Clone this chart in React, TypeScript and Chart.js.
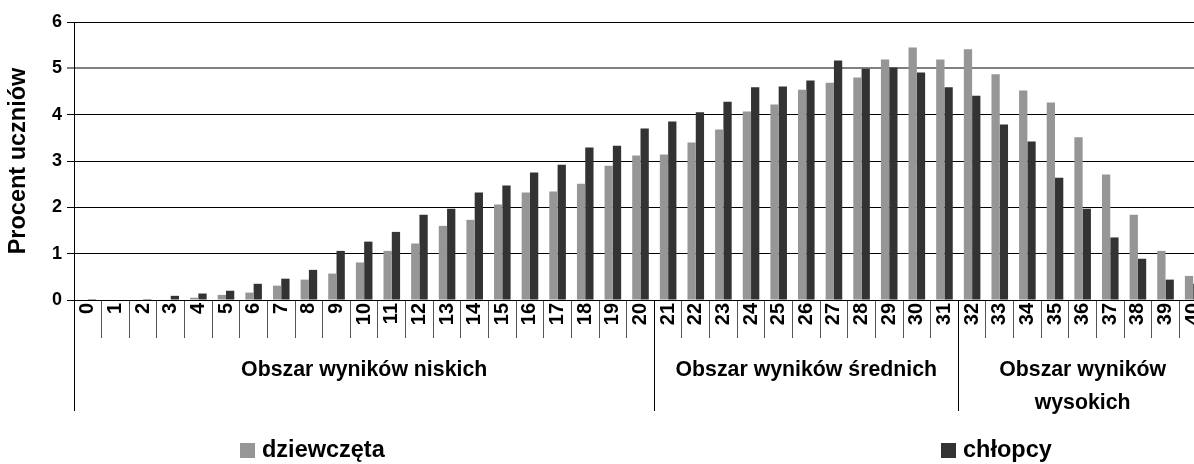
import React, { useEffect, useRef } from 'react';
import { Chart, registerables } from 'chart.js';

Chart.register(...registerables);

const categories = [
  '0', '1', '2', '3', '4', '5', '6', '7', '8', '9', '10',
  '11', '12', '13', '14', '15', '16', '17', '18', '19', '20',
  '21', '22', '23', '24', '25', '26', '27', '28', '29', '30',
  '31', '32', '33', '34', '35', '36', '37', '38', '39', '40',
];

const girls = [
  0, 0, 0, 0.01, 0.05, 0.11, 0.16, 0.31, 0.44, 0.57,
  0.81, 1.06, 1.22, 1.6, 1.73, 2.06, 2.32, 2.34, 2.51, 2.9,
  3.12, 3.14, 3.4, 3.68, 4.07, 4.22, 4.54, 4.69, 4.8, 5.19,
  5.45, 5.19, 5.41, 4.87, 4.52, 4.26, 3.51, 2.71, 1.84, 1.06,
  0.52,
];

const boys = [
  0.02, 0, 0.02, 0.09, 0.14, 0.2, 0.35, 0.46, 0.65, 1.06,
  1.26, 1.47, 1.84, 1.97, 2.32, 2.47, 2.75, 2.92, 3.29, 3.33,
  3.7, 3.85, 4.05, 4.28, 4.59, 4.61, 4.74, 5.17, 4.99, 5.02,
  4.91, 4.59, 4.41, 3.79, 3.42, 2.64, 1.97, 1.35, 0.89, 0.44,
  0.35,
];

const seriesNames = ['dziewczęta', 'chłopcy'];
const seriesColors = ['#969696', '#333333'];

const groupLabels = [
  ['Obszar wyników niskich'],
  ['Obszar wyników średnich'],
  ['Obszar wyników', 'wysokich'],
];
const groupStarts = [0, 21, 32];
const groupEnds = [20, 31, 40];

const yTitle = 'Procent uczniów';

const FONT = '"Liberation Sans", Arial, Helvetica, sans-serif';

const overlayPlugin = {
  id: 'overlay',
  afterDraw(chart: any) {
    const { ctx, chartArea, scales } = chart;
    const x = scales.x;
    const n = categories.length;
    const bound = (i: number) =>
      i <= 0
        ? chartArea.left
        : i >= n
        ? chartArea.right
        : (x.getPixelForValue(i - 1) + x.getPixelForValue(i)) / 2;

    ctx.save();
    // group separator lines
    ctx.strokeStyle = '#000';
    ctx.lineWidth = 1;
    groupStarts.forEach((s) => {
      const px = Math.round(bound(s)) + 0.5;
      ctx.beginPath();
      ctx.moveTo(px, chartArea.bottom);
      ctx.lineTo(px, 411);
      ctx.stroke();
    });

    // group labels
    ctx.fillStyle = '#000';
    ctx.font = `bold 21.3px ${FONT}`;
    ctx.textAlign = 'center';
    ctx.textBaseline = 'middle';
    groupLabels.forEach((lines, gi) => {
      const cx = (bound(groupStarts[gi]) + bound(groupEnds[gi] + 1)) / 2;
      lines.forEach((line, li) => {
        ctx.fillText(line, cx, 370 + li * 33);
      });
    });

    // legend
    const legendX = [240, 941];
    ctx.font = `bold 23.5px ${FONT}`;
    ctx.textAlign = 'left';
    seriesNames.forEach((name, i) => {
      ctx.fillStyle = seriesColors[i];
      ctx.fillRect(legendX[i], 443, 15, 15);
      ctx.fillStyle = '#000';
      ctx.fillText(name, legendX[i] + 22, 451);
    });
    ctx.restore();
  },
};

export default function App() {
  const canvasRef = useRef<HTMLCanvasElement | null>(null);

  useEffect(() => {
    const canvas = canvasRef.current;
    if (!canvas) return;
    const chart = new Chart(canvas, {
      type: 'bar',
      data: {
        labels: categories,
        datasets: [
          {
            label: seriesNames[0],
            data: girls,
            backgroundColor: seriesColors[0],
            borderWidth: 0,
            categoryPercentage: 0.6,
            barPercentage: 1,
          },
          {
            label: seriesNames[1],
            data: boys,
            backgroundColor: seriesColors[1],
            borderWidth: 0,
            categoryPercentage: 0.6,
            barPercentage: 1,
          },
        ],
      },
      options: {
        responsive: false,
        animation: false,
        layout: { padding: { top: 22, left: 0, right: 0, bottom: 0 } },
        plugins: {
          legend: { display: false },
          tooltip: { enabled: false },
        },
        scales: {
          x: {
            offset: true,
            grid: {
              display: true,
              drawOnChartArea: false,
              drawTicks: true,
              tickLength: 38,
              color: '#555',
              offset: true,
            },
            border: { display: true, color: '#000', width: 1 },
            ticks: {
              autoSkip: false,
              minRotation: 90,
              maxRotation: 90,
              padding: -35,
              color: '#000',
              font: { family: FONT, size: 20, weight: 'bold' },
            },
            afterFit: (scale: any) => {
              scale.height = 164;
            },
          },
          y: {
            min: 0,
            max: 6,
            ticks: {
              stepSize: 1,
              padding: 5,
              color: '#000',
              font: { family: FONT, size: 18, weight: 'bold' },
            },
            grid: {
              color: (c: any) => (c.tick && c.tick.value === 5 ? '#808080' : '#000'),
              lineWidth: (c: any) => (c.tick && c.tick.value === 5 ? 2 : 1),
              tickLength: 7,
              drawTicks: true,
            },
            border: { display: true, color: '#000', width: 1 },
            title: {
              display: true,
              text: yTitle,
              color: '#000',
              padding: { top: 4, bottom: 0 },
              font: { family: FONT, size: 23.5, weight: 'bold' },
            },
            afterFit: (scale: any) => {
              scale.width = 74;
            },
          },
        },
      },
      plugins: [overlayPlugin],
    });
    return () => chart.destroy();
  }, []);

  return (
    <div
      style={{
        position: 'fixed',
        left: 0,
        top: 0,
        width: 1194,
        height: 464,
        overflow: 'hidden',
        background: '#fff',
      }}
    >
      <canvas ref={canvasRef} width={1207} height={464} style={{ display: 'block' }} />
    </div>
  );
}
